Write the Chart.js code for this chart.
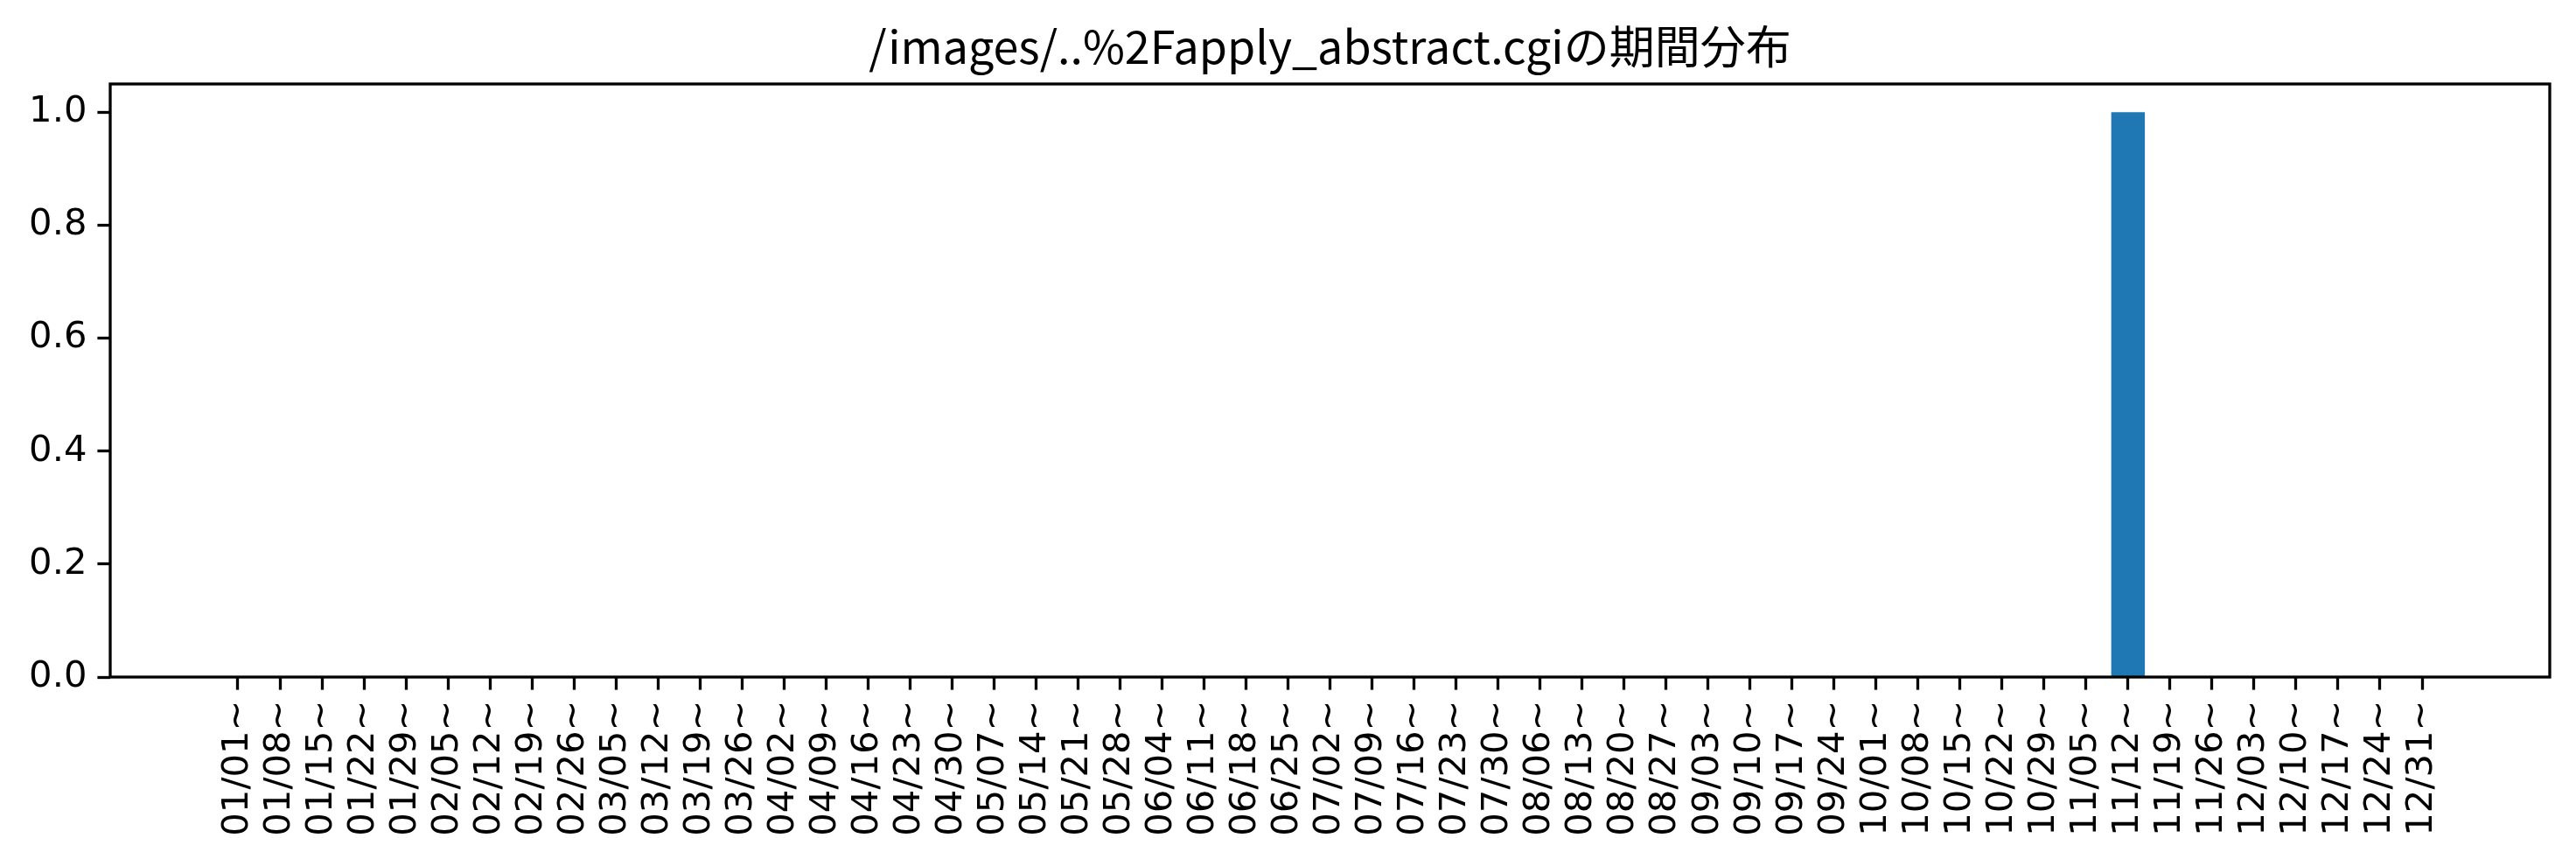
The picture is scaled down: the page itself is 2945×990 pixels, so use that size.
<!DOCTYPE html>
<html>
<head>
<meta charset="utf-8">
<script src="https://cdn.jsdelivr.net/npm/chart.js@4.4.1/dist/chart.umd.min.js"></script>
<style>
  html, body { margin: 0; padding: 0; background: #fff; }
  #wrap { width: 2945px; height: 990px; }
</style>
</head>
<body>
<div id="wrap"><canvas id="chart" width="2945" height="990"></canvas></div>
<script>
/* ---------- data ---------- */

const chartTitle = "/images/..%2Fapply_abstract.cgiの期間分布";

const weekLabels = [
  "01/01~", "01/08~", "01/15~", "01/22~", "01/29~", "02/05~", "02/12~", "02/19~", "02/26~",
  "03/05~", "03/12~", "03/19~", "03/26~", "04/02~", "04/09~", "04/16~", "04/23~", "04/30~",
  "05/07~", "05/14~", "05/21~", "05/28~", "06/04~", "06/11~", "06/18~", "06/25~", "07/02~",
  "07/09~", "07/16~", "07/23~", "07/30~", "08/06~", "08/13~", "08/20~", "08/27~", "09/03~",
  "09/10~", "09/17~", "09/24~", "10/01~", "10/08~", "10/15~", "10/22~", "10/29~", "11/05~",
  "11/12~", "11/19~", "11/26~", "12/03~", "12/10~", "12/17~", "12/24~", "12/31~"
];

const weekCounts = [
  0, 0, 0, 0, 0, 0, 0, 0, 0,
  0, 0, 0, 0, 0, 0, 0, 0, 0,
  0, 0, 0, 0, 0, 0, 0, 0, 0,
  0, 0, 0, 0, 0, 0, 0, 0, 0,
  0, 0, 0, 0, 0, 0, 0, 0, 0,
  1, 0, 0, 0, 0, 0, 0, 0
];

const yTicks = [0, 0.2, 0.4, 0.6, 0.8, 1.0];

/* ---------- frame around the plot (matplotlib spines) ---------- */

const framePlugin = {
  id: "frame",
  afterLayout(chart) {
    // center the title over the plot area, not the whole canvas
    if (chart.titleBlock) {
      chart.titleBlock.left = chart.chartArea.left;
      chart.titleBlock.right = chart.chartArea.right;
    }
  },
  afterDraw(chart) {
    const a = chart.chartArea;
    const ctx = chart.ctx;
    ctx.save();
    ctx.strokeStyle = "#000";
    ctx.lineWidth = 3.3;
    ctx.strokeRect(a.left, a.top, a.right - a.left, a.bottom - a.top);
    ctx.restore();
  }
};

/* ---------- chart ---------- */

// matplotlib-like x range: bars of width 0.8 plus 5% margins
const xMin = -0.4 - 0.05 * (weekLabels.length - 1 + 0.8);
const xMax = weekLabels.length - 1 + 0.4 + 0.05 * (weekLabels.length - 1 + 0.8);

new Chart(document.getElementById("chart"), {
  type: "bar",
  data: {
    datasets: [{
      data: weekCounts.map((v, i) => ({ x: i, y: v })),
      backgroundColor: "#1f77b4",
      borderWidth: 0,
      barPercentage: 0.8,
      categoryPercentage: 1.0
    }]
  },
  options: {
    responsive: false,
    devicePixelRatio: 1,
    animation: false,
    layout: { padding: { top: 0, right: 30, bottom: 0, left: 0 } },
    plugins: {
      legend: { display: false },
      tooltip: { enabled: false },
      title: {
        display: true,
        text: chartTitle,
        color: "#000",
        font: { family: "'Noto Sans CJK JP', 'DejaVu Sans'", size: 52, weight: "normal", lineHeight: 1 },
        padding: { top: 27, bottom: 17 }
      }
    },
    scales: {
      x: {
        type: "linear",
        min: xMin,
        max: xMax,
        offset: false,
        afterBuildTicks: (scale) => {
          scale.ticks = weekLabels.map((l, i) => ({ value: i }));
        },
        afterFit: (scale) => { scale.height = 216; },
        grid: {
          display: true,
          offset: false,
          drawOnChartArea: false,
          drawTicks: true,
          tickLength: 14.6,
          tickWidth: 3.3,
          tickColor: "#000"
        },
        border: { display: false },
        ticks: {
          autoSkip: false,
          maxRotation: 90,
          minRotation: 90,
          padding: 12,
          color: "#000",
          font: { family: "'DejaVu Sans'", size: 41.7 },
          callback: (v) => weekLabels[v]
        }
      },
      y: {
        min: 0,
        max: 1.05,
        afterBuildTicks: (scale) => {
          scale.ticks = yTicks.map(v => ({ value: v }));
        },
        afterFit: (scale) => { scale.width = 126; },
        grid: {
          display: true,
          drawOnChartArea: false,
          drawTicks: true,
          tickLength: 14.6,
          tickWidth: 3.3,
          tickColor: "#000"
        },
        border: { display: false },
        ticks: {
          padding: 12,
          color: "#000",
          font: { family: "'DejaVu Sans'", size: 41.7 },
          callback: (v) => v.toFixed(1)
        }
      }
    }
  },
  plugins: [framePlugin]
});
</script>
</body>
</html>
